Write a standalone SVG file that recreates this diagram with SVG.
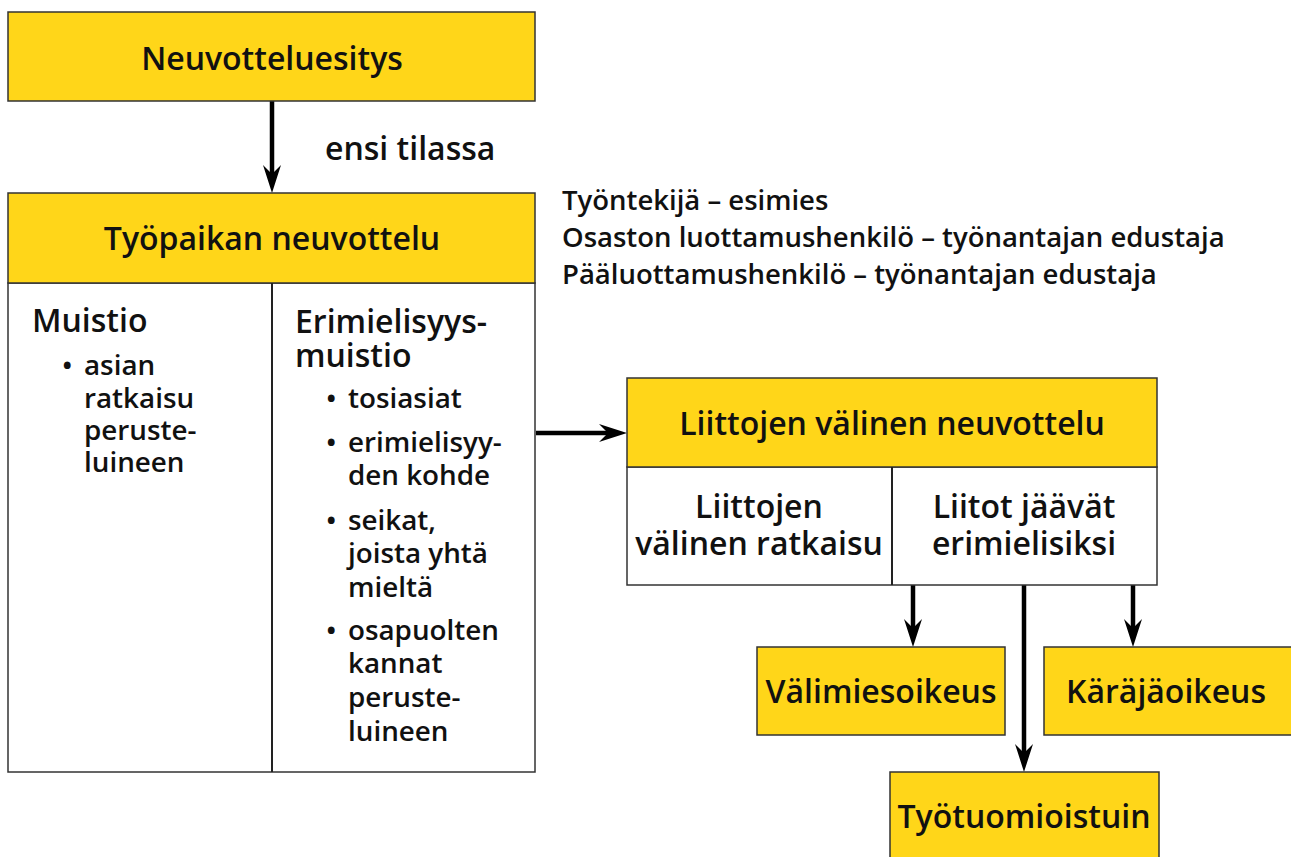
<svg xmlns="http://www.w3.org/2000/svg" width="1291" height="857" viewBox="0 0 1291 857">
<style>
.y{fill:#FFD619;stroke:#333;stroke-width:1.5}
.w{fill:#fff;stroke:#333;stroke-width:1.5}
.dv{stroke:#222;stroke-width:2}
text{font-family:"Open Sans","Noto Sans","Liberation Sans",sans-serif;font-weight:600;fill:#111}
.h{font-size:32px}
.b{font-size:27.8px}
.r{font-size:27.5px}
.c{text-anchor:middle}
.con{stroke:#000;stroke-width:4.5;fill:none;marker-end:url(#ah)}
</style>
<defs>
<marker id="ah" markerUnits="userSpaceOnUse" viewBox="0 0 28 20" refX="12" refY="10" markerWidth="28" markerHeight="20" orient="auto">
<path d="M0,1 L28,10 L0,19 L9,10 Z" fill="#000"/>
</marker>
</defs>
<rect width="1291" height="857" fill="#fff"/>
<g id="connectors">
<line class="con" x1="272" y1="101" x2="272" y2="177"/>
<line class="con" x1="536" y1="433" x2="611" y2="433"/>
<line class="con" x1="913" y1="585" x2="913" y2="631"/>
<line class="con" x1="1024" y1="583" x2="1024" y2="756"/>
<line class="con" x1="1133" y1="585" x2="1133" y2="631"/>
<text class="h" x="325" y="160">ensi tilassa</text>
</g>
<g id="neuvotteluesitys">
<rect class="y" x="8" y="12" width="527" height="89"/>
<text class="h c" x="272" y="70">Neuvotteluesitys</text>
</g>
<g id="tyopaikan-neuvottelu">
<rect class="w" x="8" y="283" width="527" height="489"/>
<rect class="y" x="8" y="193" width="527" height="90"/>
<line class="dv" x1="272" y1="283" x2="272" y2="772"/>
<text class="h c" x="272" y="250">Työpaikan neuvottelu</text>
<text class="h" x="32" y="332">Muistio</text>
<text class="b" x="62" y="375">•</text>
<text class="b" x="84" y="375">asian</text>
<text class="b" x="84" y="408">ratkaisu</text>
<text class="b" x="84" y="440">peruste-</text>
<text class="b" x="84" y="472">luineen</text>
<text class="h" x="295" y="333">Erimielisyys-</text>
<text class="h" x="295" y="367">muistio</text>
<text class="b" x="326" y="408">•</text>
<text class="b" x="348" y="408">tosiasiat</text>
<text class="b" x="326" y="452">•</text>
<text class="b" x="348" y="452">erimielisyy-</text>
<text class="b" x="348" y="485">den kohde</text>
<text class="b" x="326" y="530">•</text>
<text class="b" x="348" y="530">seikat,</text>
<text class="b" x="348" y="563">joista yhtä</text>
<text class="b" x="348" y="597">mieltä</text>
<text class="b" x="326" y="640">•</text>
<text class="b" x="348" y="640">osapuolten</text>
<text class="b" x="348" y="673">kannat</text>
<text class="b" x="348" y="707">peruste-</text>
<text class="b" x="348" y="741">luineen</text>
</g>
<g id="osapuolet">
<text class="r" x="562" y="210">Työntekijä – esimies</text>
<text class="r" x="562" y="247">Osaston luottamushenkilö – työnantajan edustaja</text>
<text class="r" x="562" y="284">Pääluottamushenkilö – työnantajan edustaja</text>
</g>
<g id="liittojen-neuvottelu">
<rect class="w" x="627" y="467" width="530" height="118"/>
<rect class="y" x="627" y="378" width="530" height="89"/>
<line class="dv" x1="892" y1="467" x2="892" y2="585"/>
<text class="h c" x="892" y="435">Liittojen välinen neuvottelu</text>
<text class="h c" x="759" y="518">Liittojen</text>
<text class="h c" x="759" y="555">välinen ratkaisu</text>
<text class="h c" x="1024" y="518">Liitot jäävät</text>
<text class="h c" x="1024" y="555">erimielisiksi</text>
</g>
<g id="valimiesoikeus">
<rect class="y" x="757" y="647" width="248" height="88"/>
<text class="h c" x="881" y="703">Välimiesoikeus</text>
</g>
<g id="karajaoikeus">
<rect class="y" x="1044" y="647" width="250" height="88"/>
<text class="h c" x="1166" y="703">Käräjäoikeus</text>
</g>
<g id="tyotuomioistuin">
<rect class="y" x="890" y="772" width="269" height="90"/>
<text class="h c" x="1024" y="828">Työtuomioistuin</text>
</g>
</svg>
